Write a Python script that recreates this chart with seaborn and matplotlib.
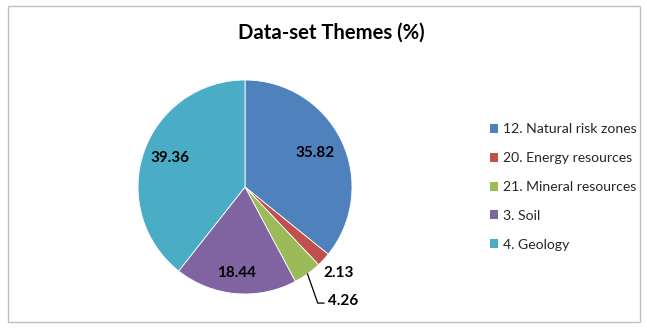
import numpy as np
import matplotlib
matplotlib.use('Agg')
import matplotlib.pyplot as plt
import seaborn as sns
from matplotlib.patches import Rectangle

themes = ['12. Natural risk zones', '20. Energy resources', '21. Mineral resources',
          '3. Soil', '4. Geology']
shares = [35.82, 2.13, 4.26, 18.44, 39.36]
share_labels = ['35.82', '2.13', '4.26', '18.44', '39.36']

sns.set_theme(style='white')
plt.rcParams['font.family'] = ['Lato', 'DejaVu Sans']

colors = ['#4F81BD', '#C0504D', '#9BBB59', '#8064A2', '#4BACC6']

fig = plt.figure(figsize=(6.47, 3.29), dpi=100)
# chart border
fig.patches.append(Rectangle((8 / 647, 7 / 329), 632 / 647, 316 / 329, transform=fig.transFigure,
                             fill=False, edgecolor='#BFBFBF', linewidth=1.0))

# pie area: centre (245, 187) px, radius 107 px
cx, cy, r = 245, 329 - 187, 107
ax = fig.add_axes([(cx - r) / 647, (cy - r) / 329, 2 * r / 647, 2 * r / 329])
wedges, _ = ax.pie(shares, colors=colors, startangle=90, counterclock=False,
                   wedgeprops=dict(linewidth=0.6, edgecolor='white'))
ax.set_xlim(-1, 1)
ax.set_ylim(-1, 1)
ax.set_aspect('auto')
ax.axis('off')

# data label positions (Excel best-fit placement)
label_pos = [(0.654, 0.318), (0.87, -0.805), (0.92, -1.065), (-0.08, -0.80), (-0.70, 0.27)]
for txt, (x, y) in zip(share_labels, label_pos):
    ax.text(x, y, txt, ha='center', va='center', fontsize=11, fontweight='bold',
            color='black', clip_on=False)

# leader line for the small mineral wedge
w = wedges[2]
theta = np.deg2rad((w.theta1 + w.theta2) / 2)
x0, y0 = np.cos(theta), np.sin(theta)
ax.plot([x0, 0.68, 0.74], [y0, -1.085, -1.085], color='black', linewidth=0.9, clip_on=False)

fig.text(331 / 647, 1 - 33 / 329, 'Data-set Themes (%)', ha='center', va='center',
         fontsize=14.6, fontweight='bold', color='black')

handles = [Rectangle((0, 0), 1, 1, facecolor=c, edgecolor='none') for c in colors]
fig.legend(handles, themes, loc='center left', bbox_to_anchor=(490 / 647, 1 - 187 / 329),
           frameon=False, fontsize=10.1, handlelength=0.6, handleheight=0.6,
           handletextpad=0.3, labelspacing=1.2, borderpad=0, borderaxespad=0)

fig.savefig('out.png', dpi=100)
